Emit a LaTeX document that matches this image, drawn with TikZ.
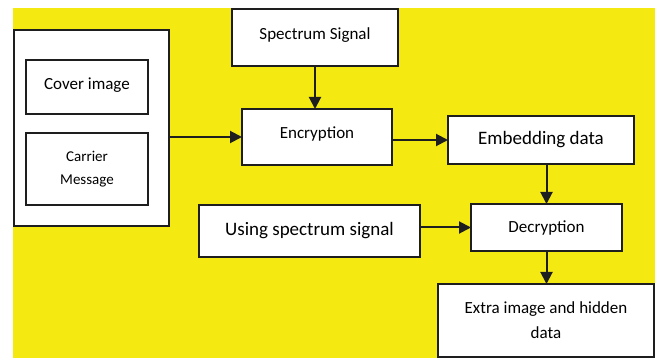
\documentclass[tikz,border=0pt]{standalone}
\usepackage{fontspec}
\setmainfont{Carlito}
\usetikzlibrary{positioning,arrows.meta}

\definecolor{bgyellow}{RGB}{245,233,18}
\definecolor{edgegray}{RGB}{30,30,30}

\tikzset{
  block/.style={rectangle, draw=edgegray, line width=1.3pt, fill=white, inner sep=0pt, outer sep=0pt, align=center, font=\fontsize{17}{22}\selectfont},
  link/.style={line width=2pt, draw=edgegray, -{Triangle[length=12pt,width=12pt]}}
}

\begin{document}
\begin{tikzpicture}[x=1pt,y=-1pt]

\useasboundingbox (0,0) rectangle (659,358);
\fill[bgyellow] (13,8) rectangle (655,358);

% input side
\node[block, minimum width=155pt, minimum height=196pt] (outer) at (91.5,128) {};
\node[block, minimum width=122pt, minimum height=54pt, text depth=6pt] (cover) at (87,87) {Cover image};
\node[block, minimum width=122pt, minimum height=72pt, font=\fontsize{15}{23}\selectfont] (carrier) at (87,169) {Carrier\\Message};

\node[block, minimum width=166pt, minimum height=57pt, text depth=8pt] (spec) at (315,37.5) {Spectrum Signal};
\node[block, minimum width=150pt, minimum height=56pt, text depth=8pt] (enc) at (317,137) {Encryption};
\node[block, minimum width=186pt, minimum height=48pt, font=\fontsize{19}{23}\selectfont] (emb) at (541,140) {Embedding data};

% output side
\node[block, minimum width=221pt, minimum height=52pt, font=\fontsize{19}{23}\selectfont] (using) at (309.5,231) {Using spectrum signal};
\node[block, minimum width=151pt, minimum height=47pt] (dec) at (546.5,227.5) {Decryption};
\node[block, minimum width=216pt, minimum height=73pt, font=\fontsize{17}{25}\selectfont] (extra) at (546,320.5) {Extra image and hidden\\data};

\draw[link] (outer.east |- enc.west) -- (enc.west);
\draw[link] (spec.south) -- (spec.south |- enc.north);
\draw[link] (emb.west -| enc.east) -- (emb.west);
\draw[link] (dec.north |- emb.south) -- (dec.north);
\draw[link] (dec.west -| using.east) -- (dec.west);
\draw[link] (dec.south) -- (dec.south |- extra.north);

\end{tikzpicture}
\end{document}
